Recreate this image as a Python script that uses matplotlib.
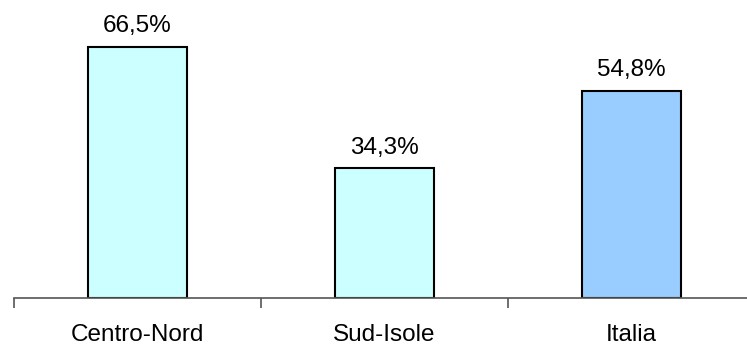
import matplotlib.pyplot as plt

categories = ["Centro-Nord", "Sud-Isole", "Italia"]
values = [66.5, 34.3, 54.8]
labels = ["66,5%", "34,3%", "54,8%"]
colors = ["#CCFFFF", "#CCFFFF", "#99CCFF"]

plt.rcParams['font.family'] = ['Liberation Sans', 'DejaVu Sans']

fig = plt.figure(figsize=(7.47, 3.45), dpi=100)
ax = fig.add_axes([14 / 747, 47 / 345, 741 / 747, 298 / 345])

x = range(len(categories))
ax.bar(x, values, width=0.4, color=colors, edgecolor="black", linewidth=1.5)
for i, v in enumerate(values):
    ax.text(i, v + 2.6, labels[i], ha="center", va="bottom", fontsize=17.5)

ax.set_xlim(-0.5, 2.5)
ax.set_ylim(0, 78.9)
ax.set_yticks([])
for s in ["top", "right", "left"]:
    ax.spines[s].set_visible(False)
ax.spines["bottom"].set_color("#555555")
ax.spines["bottom"].set_linewidth(1.2)

ax.set_xticks(list(x))
ax.set_xticklabels(categories, fontsize=17.5)
ax.tick_params(axis="x", which="major", length=0, pad=19)
ax.set_xticks([-0.5, 0.5, 1.5, 2.5], minor=True)
ax.tick_params(axis="x", which="minor", length=7, width=1.2, color="#555555")

fig.savefig("out.png", dpi=100)
